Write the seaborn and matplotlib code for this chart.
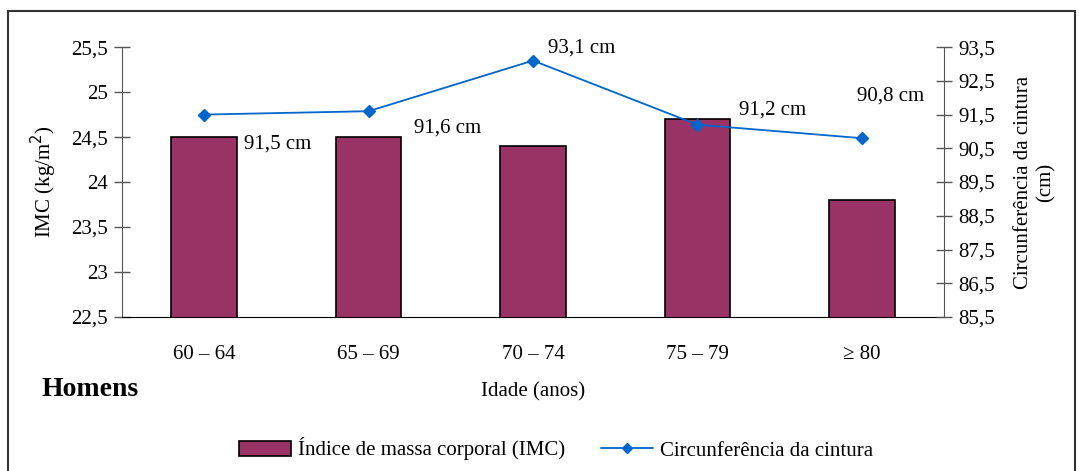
import numpy as np
import pandas as pd
import matplotlib
matplotlib.use('Agg')
import matplotlib.pyplot as plt
from matplotlib.lines import Line2D
from matplotlib.patches import Patch, Rectangle
import seaborn as sns

AGES = ['60 – 64', '65 – 69', '70 – 74', '75 – 79', '≥ 80']
IMC = [24.5, 24.5, 24.4, 24.7, 23.8]
CINTURA = [91.5, 91.6, 93.1, 91.2, 90.8]
CINTURA_LABELS = ['91,5 cm', '91,6 cm', '93,1 cm', '91,2 cm', '90,8 cm']
IMC_TICKS = [22.5, 23, 23.5, 24, 24.5, 25, 25.5]
CIN_TICKS = [85.5, 86.5, 87.5, 88.5, 89.5, 90.5, 91.5, 92.5, 93.5]

BAR_COLOR = '#993366'
LINE_COLOR = '#0066CC'

sns.set_style('white')
plt.rcParams['font.family'] = ['Liberation Serif', 'DejaVu Serif']
plt.rcParams['font.size'] = 15
plt.rcParams['text.color'] = 'black'
plt.rcParams['axes.labelcolor'] = 'black'
plt.rcParams['xtick.color'] = 'black'
plt.rcParams['ytick.color'] = 'black'

df = pd.DataFrame({'idade': AGES, 'imc': IMC})

fig = plt.figure(figsize=(10.79, 4.71), dpi=100)
ax = fig.add_axes([0.113, 0.327, 0.762, 0.573])

sns.barplot(data=df, x='idade', y='imc', color=BAR_COLOR, width=0.4,
            edgecolor='black', linewidth=1.2, saturation=1, ax=ax)
ax.set_ylim(22.5, 25.5)
ax.set_xlim(-0.5, len(AGES) - 0.5)
ax.set_yticks(IMC_TICKS)
ax.set_yticklabels([f'{t:g}'.replace('.', ',') for t in IMC_TICKS])
ax.set_ylabel('IMC (kg/m$^2$)', fontsize=15, labelpad=9)
ax.set_xlabel('Idade (anos)', fontsize=15, labelpad=13)
ax.tick_params(axis='x', length=0, pad=20, labelsize=15)
ax.set_xticks(np.arange(-0.5, len(AGES)), minor=True)
ax.tick_params(axis='x', which='minor', length=7, direction='inout', color='black')
ax.tick_params(axis='y', length=12, direction='inout', color='#555555', width=1,
               labelsize=15, pad=4)

for s in ['top', 'right']:
    ax.spines[s].set_visible(False)
ax.spines['left'].set_color('#555555')
ax.spines['bottom'].set_color('black')

ax2 = ax.twinx()
ax2.plot(range(len(AGES)), CINTURA, color=LINE_COLOR, marker='D', markersize=6,
         linewidth=1.3)
ax2.set_ylim(85.5, 93.5)
ax2.set_yticks(CIN_TICKS)
ax2.set_yticklabels([f'{t:g}'.replace('.', ',') for t in CIN_TICKS])
ax2.set_ylabel('Circunferência da cintura\n(cm)', fontsize=15, labelpad=14)
ax2.tick_params(axis='y', length=12, direction='inout', color='#555555', width=1,
                labelsize=15, pad=4)
for s in ['top', 'left', 'bottom']:
    ax2.spines[s].set_visible(False)
ax2.spines['right'].set_color('#555555')

offsets = [(40, -29), (45, -17), (15, 13), (42, 15), (-5, 42)]
for i, (lab, off) in enumerate(zip(CINTURA_LABELS, offsets)):
    ax2.annotate(lab, (i, CINTURA[i]), xytext=off, textcoords='offset pixels',
                 ha='left', va='center', fontsize=15)

fig.text(42 / 1079, 1 - 390 / 471, 'Homens', fontsize=20, fontweight='bold',
         ha='left', va='center')

handles = [Patch(facecolor=BAR_COLOR, edgecolor='black', linewidth=1.2),
           Line2D([0], [0], color=LINE_COLOR, marker='D', markersize=5, linewidth=1.3)]
fig.legend(handles, ['Índice de massa corporal (IMC)', 'Circunferência da cintura'],
           loc='center', bbox_to_anchor=(556 / 1079, 1 - 449 / 471), ncol=2,
           frameon=False, fontsize=15, handlelength=2.5, handletextpad=0.35,
           columnspacing=1.7)

fig.patches.append(Rectangle((8 / 1079, -0.01), 1067 / 1079, 1 - 11 / 471 + 0.01,
                             transform=fig.transFigure, fill=False,
                             edgecolor='#333333', linewidth=1.5))

fig.savefig('out.png', dpi=100, facecolor='white')
